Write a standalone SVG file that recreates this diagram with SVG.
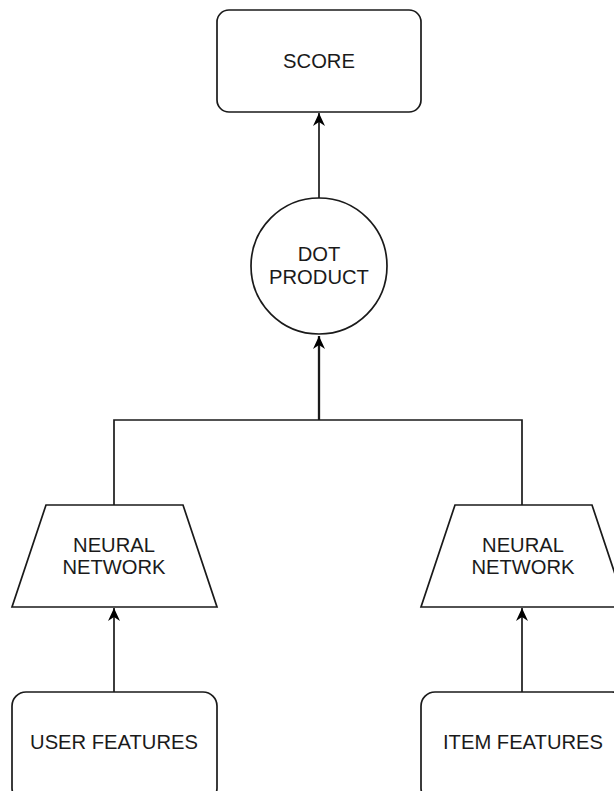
<svg xmlns="http://www.w3.org/2000/svg" width="614" height="791" viewBox="0 0 614 791">
  <style>
    .shape { fill: #ffffff; stroke: #1a1a1a; stroke-width: 1.7; }
    .edge { fill: none; stroke: #1a1a1a; stroke-width: 1.7; }
    .label { font-family: "Liberation Sans", Arial, Helvetica, sans-serif; font-size: 20.2px; fill: #1a1a1a; text-anchor: middle; }
  </style>
  <defs>
    <marker id="arrow" viewBox="0 0 14 14" refX="13" refY="7" markerWidth="14" markerHeight="14" markerUnits="userSpaceOnUse" orient="auto">
      <path d="M0,1 L13,7 L0,13 L4,7 Z" fill="#000000"/>
    </marker>
  </defs>
  <rect width="614" height="791" fill="#ffffff"/>

  <g id="connectors">
    <line class="edge" x1="319" y1="198" x2="319" y2="113" marker-end="url(#arrow)"/>
    <line class="edge" x1="319" y1="420" x2="319" y2="336" marker-end="url(#arrow)" style="stroke-width:2.3"/>
    <polyline class="edge" points="114,505 114,420 522,420 522,505"/>
    <line class="edge" x1="114" y1="692" x2="114" y2="608" marker-end="url(#arrow)"/>
    <line class="edge" x1="522" y1="692" x2="522" y2="608" marker-end="url(#arrow)"/>
  </g>

  <g id="score">
    <rect class="shape" x="217" y="10" width="204" height="102" rx="12" ry="12"/>
    <text class="label" x="319" y="68">SCORE</text>
  </g>

  <g id="dot-product">
    <circle class="shape" cx="319" cy="266" r="68"/>
    <text class="label" x="319" y="261">DOT</text>
    <text class="label" x="319" y="284">PRODUCT</text>
  </g>

  <g id="user-network">
    <polygon class="shape" points="46,505 183,505 217,607 12,607"/>
    <text class="label" x="114" y="552">NEURAL</text>
    <text class="label" x="114" y="574">NETWORK</text>
  </g>

  <g id="item-network">
    <polygon class="shape" points="455,505 592,505 626,607 421,607"/>
    <text class="label" x="523" y="552">NEURAL</text>
    <text class="label" x="523" y="574">NETWORK</text>
  </g>

  <g id="user-features">
    <rect class="shape" x="12" y="692" width="205" height="110" rx="14" ry="14"/>
    <text class="label" x="114" y="749">USER FEATURES</text>
  </g>

  <g id="item-features">
    <rect class="shape" x="421" y="692" width="205" height="110" rx="14" ry="14"/>
    <text class="label" x="523" y="749">ITEM FEATURES</text>
  </g>
</svg>
